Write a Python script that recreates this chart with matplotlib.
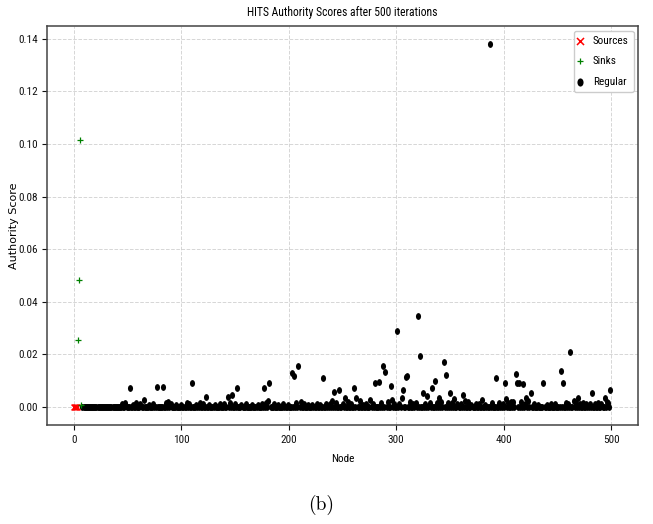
import numpy as np
import matplotlib
matplotlib.use("Agg")
import matplotlib.pyplot as plt
from matplotlib import font_manager as fm
from matplotlib.path import Path
from matplotlib.transforms import Affine2D

# ---------------- data ----------------
n_nodes = 500
source_nodes = [0, 1, 2, 3]
source_scores = [0.0, 0.0, 0.0, 0.0]
sink_nodes = [4, 5, 6, 7]
sink_scores = [0.0255, 0.0483, 0.1015, 0.0008]
regular_start = 8

# notable regular scores (node -> score)
regular_peaks = {
    52: 0.0073, 77: 0.0077, 83: 0.0077, 110: 0.0092, 123: 0.0039,
    143: 0.0038, 147: 0.0044, 152: 0.0073, 177: 0.0070, 181: 0.0023,
    182: 0.0090, 203: 0.0130, 205: 0.0117, 209: 0.0156, 232: 0.0108,
    240: 0.0023, 242: 0.0058, 247: 0.0065, 252: 0.0035, 261: 0.0073,
    263: 0.0033, 266: 0.0023, 276: 0.0025, 280: 0.0092, 284: 0.0095,
    288: 0.0156, 290: 0.0133, 295: 0.0080, 296: 0.0028, 301: 0.0289,
    305: 0.0033, 306: 0.0065, 309: 0.0114, 310: 0.0118, 320: 0.0346,
    322: 0.0194, 325: 0.0054, 329: 0.0042, 333: 0.0070, 336: 0.0099,
    340: 0.0032, 344: 0.0171, 346: 0.0122, 350: 0.0052, 354: 0.0029,
    362: 0.0044, 364: 0.0023, 367: 0.0019, 380: 0.0025, 387: 0.1380,
    393: 0.0108, 401: 0.0092, 402: 0.0029, 411: 0.0124, 412: 0.0092,
    414: 0.0090, 418: 0.0086, 421: 0.0033, 425: 0.0052, 437: 0.0092,
    453: 0.0137, 455: 0.0089, 462: 0.0209, 465: 0.0023, 469: 0.0035,
    482: 0.0052, 494: 0.0032, 499: 0.0065,
}
# small scores near the baseline (node -> score)
regular_small = {
    45: 0.0010, 48: 0.0014, 55: 0.0008, 58: 0.0016, 62: 0.0009, 65: 0.0025,
    70: 0.0007, 74: 0.0010, 86: 0.0015, 88: 0.0019, 90: 0.0012, 95: 0.0006,
    100: 0.0008, 105: 0.0014, 107: 0.0010, 114: 0.0007, 117: 0.0016,
    120: 0.0011, 126: 0.0008, 131: 0.0006, 136: 0.0009, 140: 0.0012,
    145: 0.0015, 150: 0.0010, 156: 0.0007, 160: 0.0009, 166: 0.0006,
    171: 0.0008, 175: 0.0012, 179: 0.0015, 186: 0.0010, 190: 0.0007,
    195: 0.0011, 199: 0.0006, 207: 0.0014, 211: 0.0018, 214: 0.0012,
    218: 0.0008, 222: 0.0006, 226: 0.0010, 229: 0.0007, 235: 0.0009,
    238: 0.0012, 244: 0.0015, 250: 0.0011, 255: 0.0017, 258: 0.0010,
    269: 0.0008, 272: 0.0012, 278: 0.0010, 286: 0.0015, 292: 0.0018,
    298: 0.0009, 303: 0.0012, 313: 0.0017, 316: 0.0010, 318: 0.0013,
    327: 0.0011, 331: 0.0016, 338: 0.0014, 342: 0.0020, 348: 0.0013,
    352: 0.0015, 357: 0.0010, 360: 0.0012, 370: 0.0007, 374: 0.0009,
    377: 0.0011, 383: 0.0008, 389: 0.0013, 396: 0.0016, 399: 0.0010,
    404: 0.0015, 407: 0.0018, 409: 0.0020, 416: 0.0017, 420: 0.0010,
    423: 0.0021, 428: 0.0012, 432: 0.0008, 440: 0.0006, 444: 0.0009,
    448: 0.0011, 458: 0.0013, 460: 0.0010, 467: 0.0016, 471: 0.0012,
    474: 0.0014, 477: 0.0010, 480: 0.0012, 485: 0.0011, 488: 0.0013,
    491: 0.0010, 496: 0.0018, 497: 0.0014,
}

title = "HITS Authority Scores after 500 iterations"
x_label = "Node"
y_label = "Authority Score"
legend_labels = ["Sources", "Sinks", "Regular"]
caption = "(b)"

# ---------------- build regular series ----------------
regular_nodes = np.arange(regular_start, n_nodes)
regular_scores = np.zeros(len(regular_nodes))
for d in (regular_small, regular_peaks):
    for k, v in d.items():
        regular_scores[k - regular_start] = v

# ---------------- fonts: prefer a condensed sans ----------------
def _ok(fn):
    bad = ("bold", "italic", "oblique", "light", "thin", "medium", "black",
           "serif", "mono", "semi", "extra")
    return not any(b in fn for b in bad)

priority = [("liberationsansnarrow", 8.4, None),
            ("robotocondensed", 8.1, None),
            ("opensans_condensed", 7.9, None),
            ("opensanscondensed", 7.9, None),
            ("dejavusanscondensed", 7.5, "condensed")]
font_path, fs, stretch = None, 7.2, None
files = [f.fname for f in fm.fontManager.ttflist]
for key, size, st in priority:
    cands = [p for p in files
             if key in p.lower().replace("-", "").replace(" ", "")
             and _ok(p.lower().split("/")[-1].replace(key, ""))]
    if cands:
        font_path, fs, stretch = sorted(cands, key=len)[0], size, st
        break
if font_path is not None:
    fm.fontManager.addfont(font_path)
    cname = fm.FontProperties(fname=font_path).get_name()
    plt.rcParams["font.family"] = [cname, "DejaVu Sans"]
    if stretch:
        plt.rcParams["font.stretch"] = stretch
else:
    plt.rcParams["font.family"] = ["DejaVu Sans"]

# ---------------- figure ----------------
fig = plt.figure(figsize=(6.53, 5.24), dpi=100)
ax = fig.add_axes([47 / 653, (524 - 425) / 524, (638 - 47) / 653, (425 - 26) / 524])

ell = Affine2D().scale(0.75, 1.0).transform_path(Path.unit_circle())

ax.scatter(source_nodes, source_scores, marker="x", color="red", s=18,
           linewidths=1.1, label=legend_labels[0], zorder=3)
ax.scatter(sink_nodes, sink_scores, marker="+", color="green", s=14,
           linewidths=0.9, label=legend_labels[1], zorder=3)
ax.scatter(regular_nodes, regular_scores, marker=ell, color="black", s=24,
           linewidths=0, label=legend_labels[2], zorder=2)

ax.set_xlim(-25, 525)
ax.set_ylim(-0.0069, 0.1449)
ax.set_xticks([0, 100, 200, 300, 400, 500])
ax.set_yticks([0.00, 0.02, 0.04, 0.06, 0.08, 0.10, 0.12, 0.14])
ax.yaxis.set_major_formatter(matplotlib.ticker.FormatStrFormatter("%.2f"))
ax.tick_params(labelsize=fs, length=3.5, width=0.8, colors="#111111")
ax.tick_params(axis="y", pad=3)
ax.grid(True, linestyle="--", color="#cccccc", linewidth=0.7, alpha=0.8)
ax.set_axisbelow(True)
for sp in ax.spines.values():
    sp.set_color("#444444")
    sp.set_linewidth(1.1)

ax.set_title(title, fontsize=fs + 0.3, pad=7)
ax.set_xlabel(x_label, fontsize=fs, labelpad=7)
ax.set_ylabel(y_label, fontsize=8, family="DejaVu Sans", stretch="normal")
ax.yaxis.set_label_coords(-0.048, 0.5)

ax.legend(loc="upper right", fontsize=fs, markerscale=1.2, handlelength=0.3,
          handletextpad=0.95, borderpad=0.45, labelspacing=0.95,
          borderaxespad=0.4, framealpha=1.0)

fig.text(321 / 653, 1 - 505 / 524, caption, family="cmr10", fontsize=14,
         ha="center", va="center")

fig.savefig("out.png", dpi=100)
